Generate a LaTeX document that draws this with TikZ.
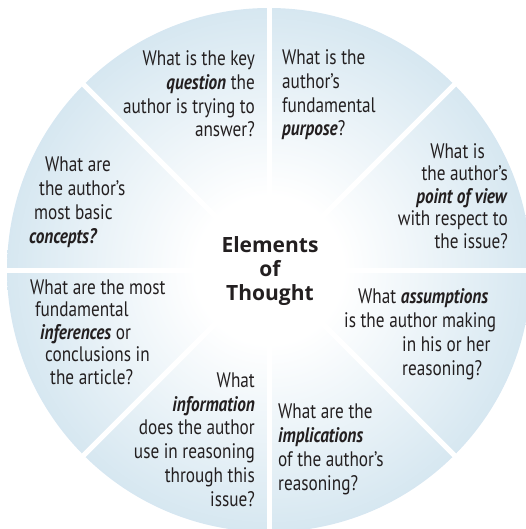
\documentclass[tikz,border=0pt]{standalone}
\usepackage{fontspec}
\setmainfont{PT Sans}[FakeStretch=0.82]
\newfontfamily\titlefont{Open Sans}
\usetikzlibrary{calc}
\definecolor{wheelblue}{RGB}{178, 210, 228}
\definecolor{ink}{RGB}{35, 31, 32}
\pgfdeclareradialshading{wheelshade}{\pgfpoint{0bp}{0bp}}{color(0bp)=(white);
  color(7bp)=(white); color(41bp)=(wheelblue); color(50bp)=(wheelblue)}
\tikzstyle{gap}=[draw=white,line width=5pt]
\tikzstyle{lt}=[align=left,anchor=base west,inner sep=0pt,text=ink,
  font=\fontsize{21}{23.7}\selectfont]
\tikzstyle{rt}=[align=right,anchor=base east,inner sep=0pt,text=ink,
  font=\fontsize{21}{23.7}\selectfont]
\tikzstyle{ct}=[align=center,anchor=base,inner sep=0pt,text=ink,
  font=\titlefont\bfseries\fontsize{21}{24}\selectfont]
\newcommand{\kw}[1]{\textbf{\textit{#1}}}

\begin{document}
\begin{tikzpicture}[x=1pt,y=-1pt]
            \useasboundingbox (0,0) rectangle (525,529);
            \coordinate (c) at (269, 270);
            \shade [shading=wheelshade] (c) circle [radius=262pt];
            \foreach \a in {0,45,90,135}
              \draw [style=gap] ($(c)+(\a:270pt)$) to ($(c)+(\a+180:270pt)$);
            % base anchors sit on the last line of each node
            \node [style=ct] (0) at (270, 300) {Elements\\of\\Thought};
            \node [style=rt] (1) at (255, 137) {What is the key\\\kw{question} the\\author is trying to\\answer?};
            \node [style=lt] (2) at (282, 136) {What is the\\author's\\fundamental\\\kw{purpose}?};
            \node [style=rt,font=\fontsize{21}{22.4}\selectfont] (3) at (508, 248)
              {What is\hspace*{23pt}\\the author's\hspace*{18pt}\\\kw{point of view}\hspace*{10pt}\\with respect to\hspace*{6pt}\\the issue?};
            \node [style=lt] (4) at (344, 375)
              {\hspace*{14pt}What \kw{assumptions}\\is the author making\\\hspace*{58pt}in his or her\\\hspace*{58pt}reasoning?};
            \node [style=lt] (5) at (278, 490) {What are the\\\kw{implications}\\of the author's\\reasoning?};
            \node [style=rt] (6) at (255, 506) {What\\\kw{information}\\does the author\\use in reasoning\\through this\\issue?};
            \node [style=lt,font=\fontsize{21}{22.4}\selectfont] (7) at (30, 384)
              {What are the most\\\hspace*{5pt}fundamental\\\hspace*{10pt}\kw{inferences} or\\\hspace*{15pt}conclusions in\\\hspace*{20pt}the article?};
            \node [style=lt] (8) at (29, 243)
              {\hspace*{16pt}What are\\\hspace*{10pt}the author's\\\hspace*{5pt}most basic\\\kw{concepts?}};
    \end{tikzpicture}
\end{document}
